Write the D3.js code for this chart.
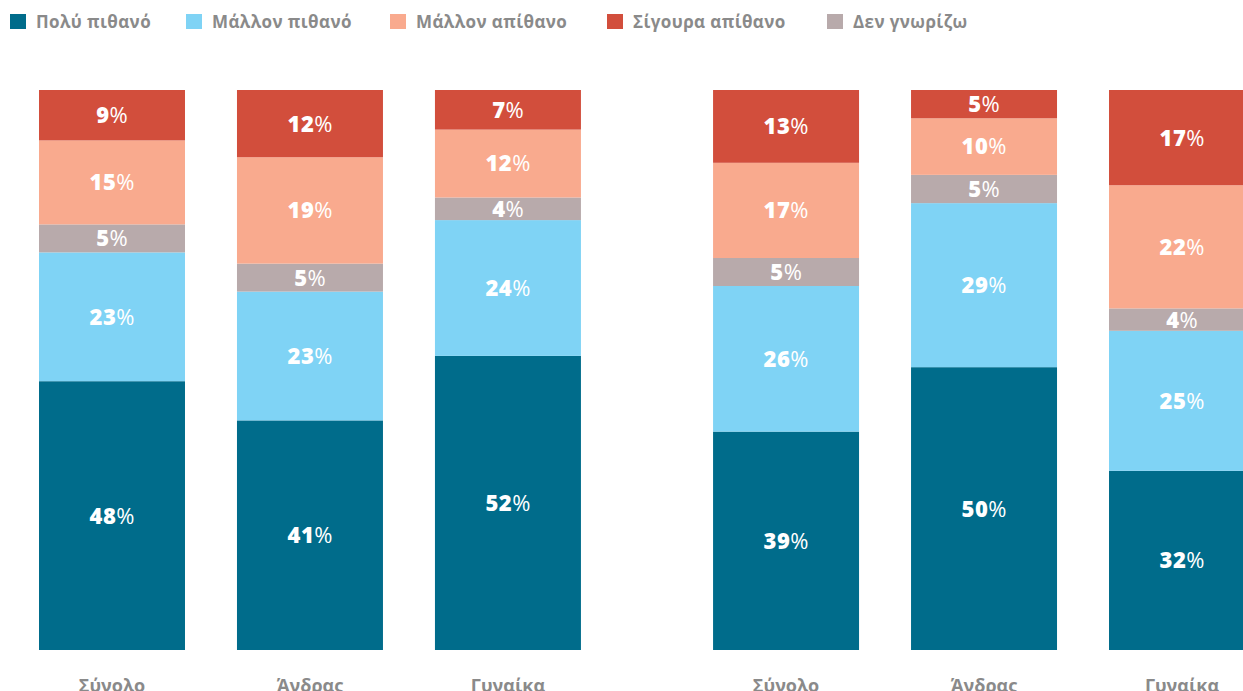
<!DOCTYPE html>
<html>
<head>
<meta charset="utf-8">
<script src="https://cdn.jsdelivr.net/npm/d3@7"></script>
<style>
  html, body { margin: 0; padding: 0; background: #fff; overflow: hidden; }
  svg { display: block; }
</style>
</head>
<body>
<svg id="chart" width="1243" height="691"></svg>
<script>
// Answer categories, in stacking order from the bottom of each bar
const seriesNames = ["Πολύ πιθανό", "Μάλλον πιθανό", "Δεν γνωρίζω", "Μάλλον απίθανο", "Σίγουρα απίθανο"];
const seriesColors = ["#006c8b", "#7fd3f5", "#b8aaab", "#f9aa8e", "#d24e3c"];
// Legend order across the top
const legendOrder = ["Πολύ πιθανό", "Μάλλον πιθανό", "Μάλλον απίθανο", "Σίγουρα απίθανο", "Δεν γνωρίζω"];

const groups = ["A", "B"];
const categories = ["Σύνολο", "Άνδρας", "Γυναίκα"];

// Percentages per category, in seriesNames order
const valuesA = [
  [48, 23, 5, 15, 9],
  [41, 23, 5, 19, 12],
  [52, 24, 4, 12, 7]
];
const valuesB = [
  [39, 26, 5, 17, 13],
  [50, 29, 5, 10, 5],
  [32, 25, 4, 22, 17]
];
const groupValues = [valuesA, valuesB];

const svg = d3.select("#chart");
const font = "'Open Sans', 'Noto Sans', sans-serif";

const y = d3.scaleLinear().domain([0, 1]).range([650, 90]);
const xGroup = d3.scaleBand().domain(groups).range([39, 1255]).paddingInner(0.196).paddingOuter(0);
const xCat = d3.scaleBand().domain(categories).range([0, xGroup.bandwidth()]).paddingInner(0.2626).paddingOuter(0);
const color = d3.scaleOrdinal().domain(seriesNames).range(seriesColors);

const stack = d3.stack().keys(d3.range(seriesNames.length)).offset(d3.stackOffsetExpand);

groups.forEach((g, gi) => {
  const rows = groupValues[gi].map((v, i) => Object.assign({ cat: categories[i] }, v));
  const layers = stack(rows);
  const gEl = svg.append("g").attr("transform", `translate(${xGroup(g)},0)`);

  layers.forEach((layer, si) => {
    const lg = gEl.append("g");
    lg.selectAll("rect")
      .data(layer)
      .join("rect")
      .attr("x", d => xCat(d.data.cat))
      .attr("width", xCat.bandwidth())
      .attr("y", d => y(d[1]))
      .attr("height", d => y(d[0]) - y(d[1]))
      .attr("fill", color(seriesNames[si]));

    const t = lg.selectAll("text")
      .data(layer)
      .join("text")
      .attr("x", d => xCat(d.data.cat) + xCat.bandwidth() / 2)
      .attr("y", d => (y(d[0]) + y(d[1])) / 2)
      .attr("dy", "0.36em")
      .attr("text-anchor", "middle")
      .attr("fill", "#fff")
      .style("font-family", font)
      .style("font-size", "22px");
    t.append("tspan").style("font-weight", 800).style("letter-spacing", "0.5px").text(d => d.data[si]);
    t.append("tspan").style("font-weight", 400).text("%");
  });

  // Category labels under each bar
  gEl.selectAll("text.cat")
    .data(categories)
    .join("text")
    .attr("class", "cat")
    .attr("x", d => xCat(d) + xCat.bandwidth() / 2)
    .attr("y", 692)
    .attr("text-anchor", "middle")
    .attr("fill", "#8a8a8a")
    .style("font-family", font)
    .style("font-weight", 700)
    .style("font-size", "18px")
    .text(d => d);
});

// Legend
const legendX = [10, 186, 390, 607, 827];
const legend = svg.append("g");
legendOrder.forEach((name, i) => {
  const item = legend.append("g").attr("transform", `translate(${legendX[i]},0)`);
  item.append("rect")
    .attr("x", 0).attr("y", 14)
    .attr("width", 16).attr("height", 15)
    .attr("fill", color(name));
  item.append("text")
    .attr("x", 26).attr("y", 28)
    .attr("fill", "#8a8a8a")
    .style("font-family", font)
    .style("font-weight", 700)
    .style("font-size", "17px")
    .style("letter-spacing", "0.4px")
    .text(name);
});
</script>
</body>
</html>
